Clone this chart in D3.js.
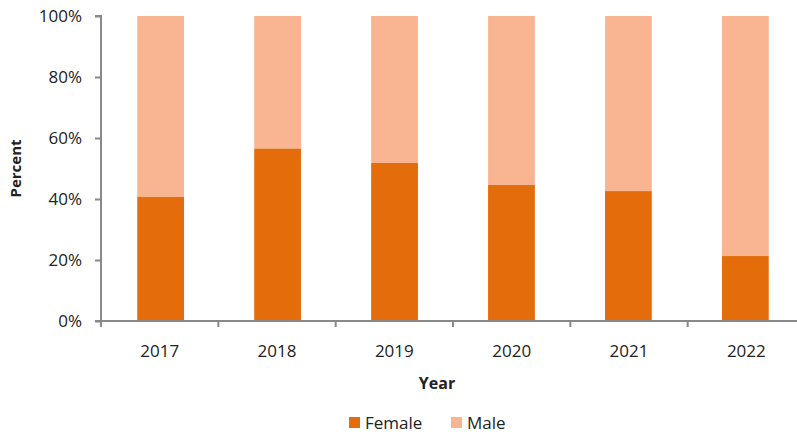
<!DOCTYPE html>
<html>
<head>
<meta charset="utf-8">
<script src="https://cdn.jsdelivr.net/npm/d3@7"></script>
<style>
  body { margin: 0; background: #fff; }
  svg { display: block; font-family: "Open Sans", "Noto Sans", sans-serif; }
</style>
</head>
<body>
<svg id="chart" width="797" height="434"></svg>
<script>
const years = ["2017", "2018", "2019", "2020", "2021", "2022"]
const female = [40.8, 56.6, 51.8, 44.6, 42.6, 21.3]
const male = female.map(f => 100 - f)
const yTicks = [0, 20, 40, 60, 80, 100]
const seriesNames = ["Female", "Male"]
const colours = ["#E46C0A", "#F9B592"]

const svg = d3.select("#chart")
const plotLeft = 101, plotRight = 805, plotTop = 16, plotBottom = 321

const x = d3.scaleBand().domain(years).range([plotLeft, plotRight]).paddingInner(0.6).paddingOuter(0.31)
const xAxisBand = d3.scaleBand().domain(years).range([plotLeft, plotRight])
const y = d3.scaleLinear().domain([0, 100]).range([plotBottom, plotTop])

const rows = years.map((yr, i) => ({ year: yr, Female: female[i], Male: male[i] }))
const stacked = d3.stack().keys(seriesNames)(rows)

svg.selectAll("g.series")
   .data(stacked)
   .join("g")
   .attr("fill", (d, i) => colours[i])
   .selectAll("rect")
   .data(d => d)
   .join("rect")
   .attr("x", d => x(d.data.year))
   .attr("width", x.bandwidth())
   .attr("y", d => y(d[1]))
   .attr("height", d => y(d[0]) - y(d[1]))

// y axis
const yAxis = svg.append("g")
   .attr("transform", `translate(${plotLeft},0)`)
   .call(d3.axisLeft(y).tickValues(yTicks).tickFormat(d => d + "%").tickSize(6).tickPadding(13))
yAxis.select(".domain").attr("d", `M-6,${plotTop}H0V${plotBottom}`)

// x axis
const xAxis = svg.append("g")
   .attr("transform", `translate(0,${plotBottom})`)
xAxis.append("line")
   .attr("x1", plotLeft - 6).attr("x2", 797)
   .attr("y1", 0).attr("y2", 0)
xAxis.selectAll("line.tick")
   .data(years)
   .join("line")
   .attr("class", "tick")
   .attr("x1", d => xAxisBand(d) + xAxisBand.bandwidth())
   .attr("x2", d => xAxisBand(d) + xAxisBand.bandwidth())
   .attr("y1", 0).attr("y2", 6)
xAxis.append("line")
   .attr("x1", plotLeft).attr("x2", plotLeft).attr("y1", 0).attr("y2", 6)
xAxis.selectAll("line").attr("stroke", "#898989").attr("stroke-width", 2)
xAxis.selectAll("text")
   .data(years)
   .join("text")
   .attr("x", d => xAxisBand(d) + xAxisBand.bandwidth() / 2)
   .attr("y", 36)
   .attr("text-anchor", "middle")
   .attr("fill", "#222")
   .attr("font-size", 17)
   .text(d => d)

yAxis.selectAll(".domain, .tick line").attr("stroke", "#898989").attr("stroke-width", 2)
yAxis.selectAll(".tick text").attr("font-size", 17).attr("fill", "#222").attr("font-family", "Open Sans, sans-serif")

// axis titles
svg.append("text")
   .attr("transform", `translate(21,${(plotTop + plotBottom) / 2}) rotate(-90)`)
   .attr("text-anchor", "middle")
   .attr("font-weight", "bold")
   .attr("font-size", 15)
   .attr("fill", "#222")
   .text("Percent")
svg.append("text")
   .attr("x", 437).attr("y", 389)
   .attr("text-anchor", "middle")
   .attr("font-weight", "bold")
   .attr("font-size", 16)
   .attr("fill", "#222")
   .text("Year")

// legend
const legendX = [349, 451]
const legend = svg.selectAll("g.legend")
   .data(seriesNames)
   .join("g")
   .attr("transform", (d, i) => `translate(${legendX[i]},417)`)
legend.append("rect").attr("width", 11).attr("height", 11).attr("fill", (d, i) => colours[i])
legend.append("text")
   .attr("x", 16).attr("y", 12)
   .attr("font-size", 17)
   .attr("fill", "#222")
   .text(d => d)
</script>
</body>
</html>
